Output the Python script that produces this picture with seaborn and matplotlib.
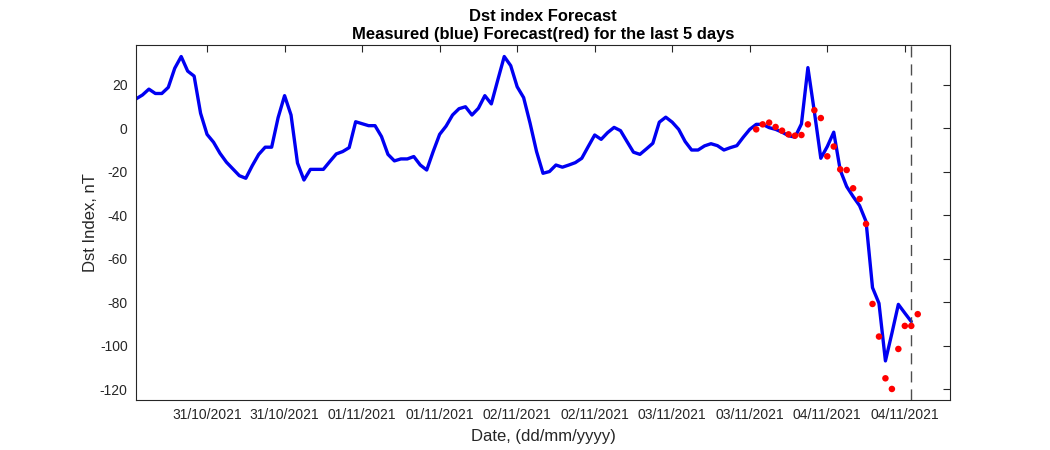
import numpy as np
import pandas as pd
import matplotlib
matplotlib.use("Agg")
import matplotlib.pyplot as plt
import matplotlib.dates as mdates
import seaborn as sns

# Hourly measured Dst (nT), starting 30/10/2021 13:00
measured = [13.5, 15.3, 18, 16, 16, 18.8, 27.6, 33, 26.3, 24,
            6.9, -2.8, -6.4, -11.5, -15.6, -18.7, -21.8, -23, -17.2, -12,
            -8.7, -8.7, 4.9, 15, 6.1, -16, -23.8, -18.9, -18.9, -18.9,
            -15.3, -11.8, -10.7, -8.9, 3, 2.1, 1.2, 1.2, -3.8, -12,
            -15, -14.1, -14.1, -13, -16.9, -19.2, -10.7, -2.8, 1, 6.1,
            9, 9.9, 6.1, 9.2, 15, 11.2, 22.2, 33, 28.8, 19.1,
            14.1, 2.3, -10.7, -20.7, -19.9, -16.9, -17.9, -16.9, -15.8, -13.8,
            -8.4, -3.1, -5.1, -2, 0.4, -1.1, -6.1, -11, -12, -9.5,
            -6.9, 2.8, 5.1, 2.8, -0.5, -6.1, -10, -10, -8.1, -7.1,
            -8, -10, -8.9, -8, -4.1, -0.5, 1.8, 1.8, 0.3, -0.5,
            -1.8, -3.4, -4.1, 2, 27.9, 7.6, -13.8, -8.4, -1.8, -19.2,
            -26.8, -31.4, -35.6, -42.9, -73.3, -80.5, -107, -94.3, -81, -85,
            -88.9]

# Hourly forecast Dst (nT), starting 04/11/2021 05:00 (hour index 96)
forecast_start = 96
forecast = [-0.5, 1.8, 2.6, 0.6, -1.1, -2.8, -3.4, -3.1, 1.8, 8.3,
            4.7, -12.9, -8.4, -18.9, -19.2, -27.6, -32.5, -44, -80.8, -95.8,
            -115, -119.9, -101.5, -90.9, -90.9, -85.5]

start = pd.Timestamp("2021-10-30 13:00")
t_meas = pd.date_range(start, periods=len(measured), freq="h")
t_fc = pd.date_range(start + pd.Timedelta(hours=forecast_start), periods=len(forecast), freq="h")
df_m = pd.DataFrame({"time": t_meas, "dst": measured})
df_f = pd.DataFrame({"time": t_fc, "dst": forecast})
now_time = t_meas[-1]

sns.set_style("white")
plt.rcParams['font.family'] = ['Liberation Sans', 'DejaVu Sans']
plt.rcParams['axes.unicode_minus'] = False

fig = plt.figure(figsize=(10.5, 4.5), dpi=100)
ax = fig.add_axes([0.1295, 0.111, 0.7753, 0.789])

sns.lineplot(data=df_m, x="time", y="dst", ax=ax, color=(0, 0, 0.95), linewidth=2.4)
sns.scatterplot(data=df_f, x="time", y="dst", ax=ax, color=(1, 0, 0), s=22,
                edgecolor="none", zorder=3)
ax.axvline(now_time, color=(0.3, 0.3, 0.3), linestyle=(0, (8, 5)), linewidth=1.0)

ax.set_xlim(start, start + pd.Timedelta(hours=126))
ax.set_ylim(-125, 38.3)
ax.set_yticks([20, 0, -20, -40, -60, -80, -100, -120])
ax.xaxis.set_major_locator(mdates.HourLocator(byhour=[0, 12]))
ax.xaxis.set_major_formatter(mdates.DateFormatter("%d/%m/%Y"))

edge = (0.15, 0.15, 0.15)
for sp in ax.spines.values():
    sp.set_color(edge)
    sp.set_linewidth(0.8)
ax.tick_params(direction="in", length=5, width=0.8, color=edge,
               top=True, right=True, labelsize=10, labelcolor=edge, pad=6)

ax.set_xlabel("Date, (dd/mm/yyyy)", fontsize=12, color=edge, labelpad=5)
ax.set_ylabel("Dst Index, nT", fontsize=12, color=edge, labelpad=1)
ax.set_title("Dst index Forecast\nMeasured (blue) Forecast(red) for the last 5 days",
             fontsize=11.9, fontweight="bold", color="black", pad=4, linespacing=1.3)

fig.savefig("out.png", dpi=100)
